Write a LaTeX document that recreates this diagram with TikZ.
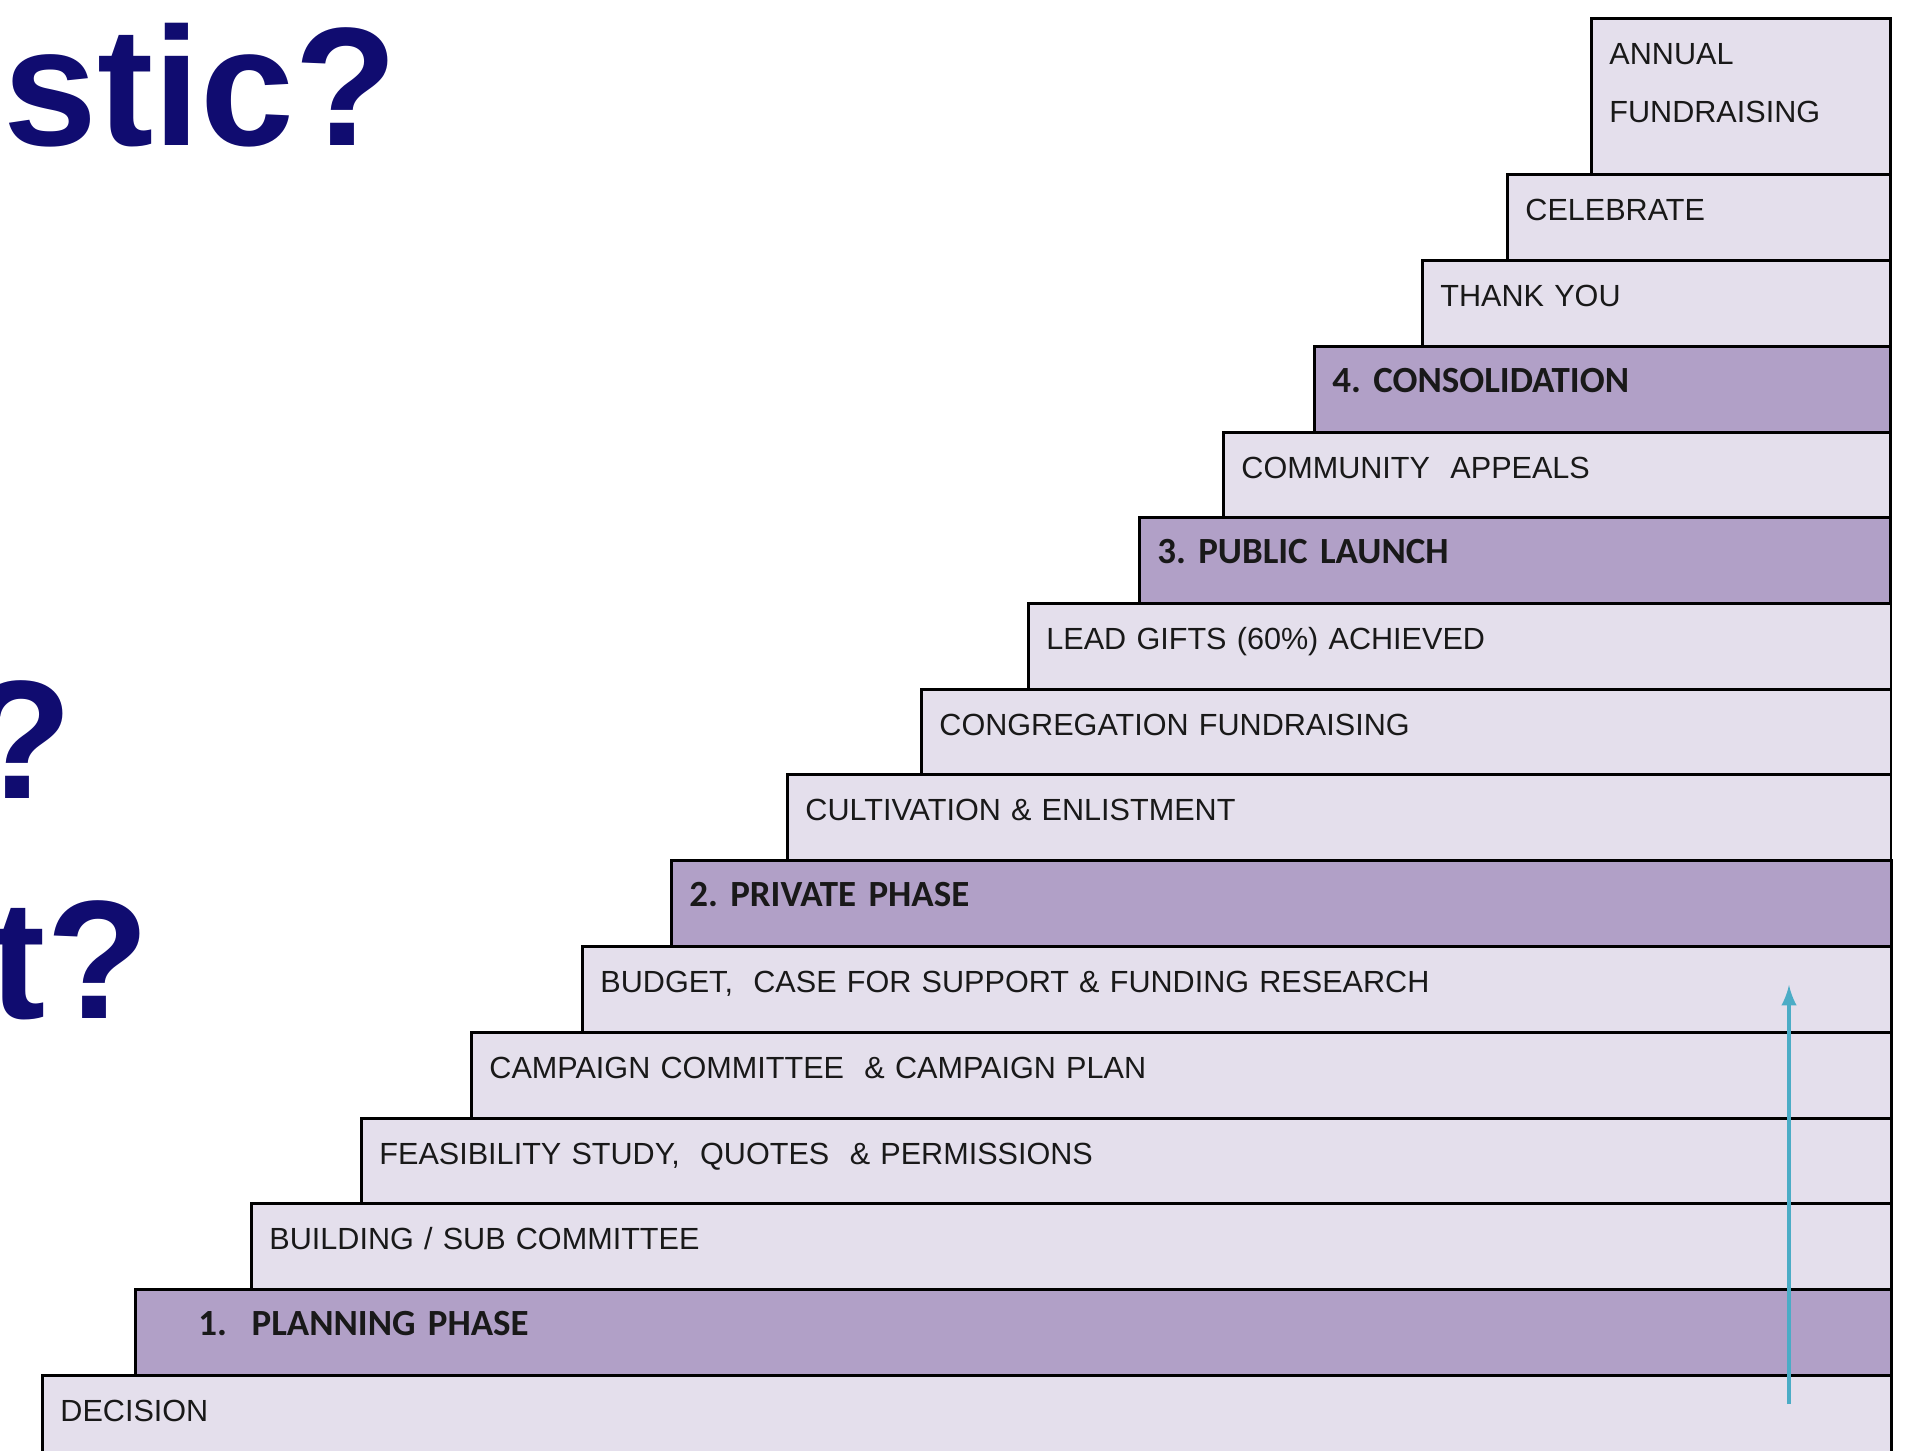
\documentclass[tikz,border=0pt]{standalone}
\usepackage{fontspec}
\setmainfont{Liberation Sans}
\newfontfamily\phasefont{Carlito}
\definecolor{stepfill}{HTML}{E4DFEC}
\definecolor{phasefill}{HTML}{B1A0C7}
\definecolor{navy}{HTML}{100C70}
\definecolor{rise}{HTML}{4BACC6}

\begin{document}
\begin{tikzpicture}[x=0.01cm,y=-0.01cm]
    \tikzset{stepbox/.style={draw=black, line width=0.8pt, fill=stepfill, anchor=north west,
               minimum height=0.86cm, inner xsep=0.18cm, inner ysep=0pt,
               text height=0.22cm, text depth=0.16cm, align=left, text=black!90,
               font=\frenchspacing\fontsize{8.7}{10.4}\selectfont},
             phasebox/.style={stepbox, fill=phasefill, font=\frenchspacing\phasefont\bfseries\fontsize{10.5}{12.6}\selectfont},
             headline/.style={anchor=base east, inner sep=0pt, text=navy, font=\bfseries\fontsize{48}{50}\selectfont}}
    \useasboundingbox (0,0) rectangle (1911,1450);
    % headline fragments
    \node[headline] (stic) at (398,145) {stic?};
    \node[headline] (qmark) at (73,798) {?};
    \node[headline] (tq) at (150,1018) {t?};
    % the staircase, top step first
    \node[stepbox, text width=2.63cm, minimum height=1.56cm, text depth=0.86cm,
          font=\fontsize{8.7}{16.5}\selectfont] (annual) at (1590,17) {ANNUAL\\FUNDRAISING};
    \node[stepbox, text width=3.47cm] (celebrate) at (1506,173) {CELEBRATE};
    \node[stepbox, text width=4.32cm] (thanks) at (1421,259) {THANK YOU};
    \node[phasebox, text width=5.40cm] (consolidation) at (1313,345) {4. CONSOLIDATION};
    \node[stepbox, text width=6.31cm] (appeals) at (1222,431) {COMMUNITY~ APPEALS};
    \node[phasebox, text width=7.15cm] (launch) at (1138,516) {3. PUBLIC LAUNCH};
    \node[stepbox, text width=8.26cm] (leadgifts) at (1027,602) {LEAD GIFTS (60\%) ACHIEVED};
    \node[stepbox, text width=9.33cm] (congregation) at (920,688) {CONGREGATION FUNDRAISING};
    \node[stepbox, text width=10.67cm] (cultivation) at (786,773) {CULTIVATION \& ENLISTMENT};
    \node[phasebox, text width=11.83cm] (private) at (670,859) {2. PRIVATE PHASE};
    \node[stepbox, text width=12.72cm] (budget) at (581,945) {BUDGET,~ CASE FOR SUPPORT \& FUNDING RESEARCH};
    \node[stepbox, text width=13.83cm] (committee) at (470,1031) {CAMPAIGN COMMITTEE~ \& CAMPAIGN PLAN};
    \node[stepbox, text width=14.93cm] (feasibility) at (360,1117) {FEASIBILITY STUDY,~ QUOTES~ \& PERMISSIONS};
    \node[stepbox, text width=16.03cm] (building) at (250,1202) {BUILDING / SUB COMMITTEE};
    \node[phasebox, text width=17.19cm] (planning) at (134,1288) {\hspace*{0.45cm}1.~ PLANNING PHASE};
    \node[stepbox, text width=18.12cm] (decision) at (41,1374) {DECISION};
    % progress arrow
    \coordinate (risefoot) at (1789,1404);
    \coordinate (risetop) at (1789,985);
    \draw[rise, line width=1pt, -latex] (risefoot) -- (risetop);
\end{tikzpicture}
\end{document}
